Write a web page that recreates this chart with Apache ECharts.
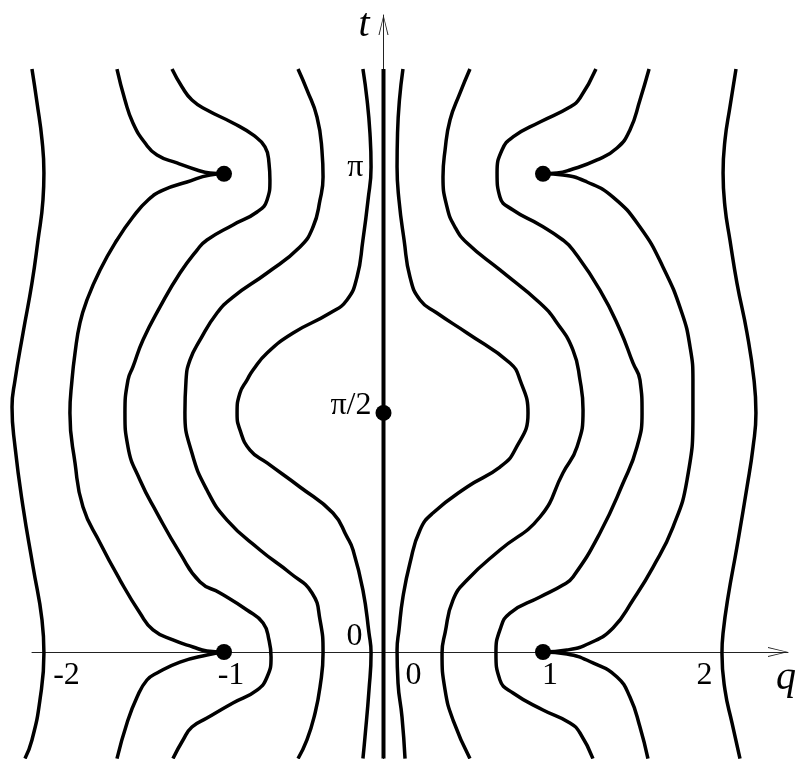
<!DOCTYPE html>
<html>
<head>
<meta charset="utf-8">
<script src="https://cdn.jsdelivr.net/npm/echarts@6/dist/echarts.min.js"></script>
<style>
html, body { margin: 0; padding: 0; background: #fff; }
#chart { width: 799px; height: 759px; }
</style>
</head>
<body>
<div id="chart"></div>
<script>
// level curves, points are [q, t]
const farLeft = [[-2.204,3.83],[-2.172,3.607],[-2.141,3.364],[-2.129,3.147],[-2.135,2.970],[-2.166,2.707],[-2.204,2.424],[-2.260,2.096],[-2.310,1.787],[-2.329,1.610],[-2.310,1.347],[-2.260,0.953],[-2.197,0.558],[-2.141,0.210],[-2.129,-0.007],[-2.154,-0.315],[-2.204,-0.578],[-2.248,-0.70]];
const bLeftTop = [[-1.671,3.83],[-1.621,3.627],[-1.571,3.476],[-1.495,3.344],[-1.420,3.265],[-1.295,3.213],[-1.169,3.167],[-1.088,3.147],[-1,3.1416]];
const bLeftMid = [[-1,3.1416],[-1.088,3.134],[-1.232,3.088],[-1.382,3.035],[-1.476,2.970],[-1.571,2.858],[-1.671,2.707],[-1.777,2.510],[-1.859,2.313],[-1.903,2.162],[-1.934,1.965],[-1.953,1.787],[-1.966,1.570],[-1.934,1.242],[-1.884,0.953],[-1.777,0.716],[-1.652,0.473],[-1.527,0.256],[-1.445,0.145],[-1.320,0.079],[-1.194,0.033],[-1.107,0.007],[-1,0]];
const bLeftBottom = [[-1,0],[-1.107,-0.020],[-1.276,-0.066],[-1.420,-0.138],[-1.483,-0.184],[-1.545,-0.296],[-1.608,-0.466],[-1.671,-0.70]];
const cLeft = [[-1.326,3.83],[-1.263,3.712],[-1.201,3.627],[-1.107,3.561],[-0.944,3.476],[-0.818,3.397],[-0.743,3.318],[-0.718,3.213],[-0.712,3.101],[-0.730,2.970],[-0.793,2.891],[-0.944,2.806],[-1.107,2.707],[-1.169,2.641],[-1.276,2.490],[-1.401,2.267],[-1.508,2.050],[-1.571,1.873],[-1.602,1.787],[-1.621,1.570],[-1.602,1.347],[-1.527,1.130],[-1.420,0.913],[-1.276,0.650],[-1.150,0.460],[-1.025,0.388],[-0.856,0.276],[-0.755,0.191],[-0.718,0.079],[-0.705,-0.033],[-0.730,-0.164],[-0.793,-0.250],[-0.944,-0.335],[-1.107,-0.434],[-1.201,-0.493],[-1.257,-0.578],[-1.320,-0.70]];
const dLeft = [[-0.536,3.83],[-0.480,3.693],[-0.417,3.515],[-0.386,3.298],[-0.379,3.121],[-0.398,2.970],[-0.442,2.792],[-0.524,2.661],[-0.730,2.490],[-0.944,2.332],[-1.044,2.227],[-1.150,2.050],[-1.213,1.919],[-1.238,1.787],[-1.245,1.570],[-1.201,1.307],[-1.107,1.064],[-0.981,0.867],[-0.774,0.670],[-0.586,0.519],[-0.448,0.388],[-0.398,0.210],[-0.379,-0.007],[-0.398,-0.230],[-0.429,-0.401],[-0.480,-0.578],[-0.536,-0.70]];
const eLeft = [[-0.129,3.83],[-0.103,3.627],[-0.085,3.410],[-0.078,3.187],[-0.097,2.970],[-0.129,2.707],[-0.166,2.464],[-0.229,2.313],[-0.335,2.227],[-0.567,2.096],[-0.730,1.965],[-0.818,1.853],[-0.856,1.787],[-0.900,1.702],[-0.918,1.570],[-0.900,1.459],[-0.837,1.327],[-0.730,1.242],[-0.524,1.084],[-0.317,0.913],[-0.229,0.756],[-0.191,0.670],[-0.129,0.407],[-0.091,0.125],[-0.078,-0.007],[-0.091,-0.250],[-0.116,-0.558],[-0.129,-0.70]];
const centre = [[0,3.83],[0,1.5708],[0,-0.70]];
const eRight = [[0.122,3.83],[0.100,3.627],[0.088,3.410],[0.085,3.187],[0.097,2.970],[0.129,2.707],[0.166,2.464],[0.229,2.313],[0.335,2.227],[0.524,2.096],[0.793,1.899],[0.856,1.787],[0.906,1.570],[0.824,1.327],[0.730,1.215],[0.524,1.084],[0.310,0.913],[0.229,0.802],[0.166,0.585],[0.122,0.361],[0.097,0.145],[0.085,0.013],[0.091,-0.204],[0.116,-0.427],[0.135,-0.70]];
const dRight = [[0.542,3.83],[0.480,3.673],[0.417,3.495],[0.386,3.298],[0.373,3.121],[0.398,2.924],[0.448,2.792],[0.524,2.687],[0.730,2.510],[0.981,2.293],[1.088,2.162],[1.188,1.984],[1.232,1.787],[1.251,1.590],[1.213,1.347],[1.125,1.176],[0.981,0.887],[0.730,0.670],[0.524,0.473],[0.436,0.342],[0.386,0.125],[0.367,-0.007],[0.386,-0.250],[0.436,-0.447],[0.542,-0.70]];
const cRight = [[1.332,3.83],[1.232,3.640],[1.169,3.581],[0.981,3.482],[0.812,3.384],[0.743,3.298],[0.712,3.147],[0.730,2.989],[0.812,2.904],[0.981,2.806],[1.125,2.707],[1.188,2.641],[1.357,2.378],[1.483,2.116],[1.564,1.899],[1.608,1.787],[1.621,1.570],[1.589,1.347],[1.502,1.110],[1.357,0.782],[1.188,0.493],[1.125,0.440],[0.981,0.361],[0.793,0.256],[0.730,0.145],[0.705,-0.007],[0.730,-0.184],[0.812,-0.269],[1.000,-0.381],[1.169,-0.466],[1.232,-0.532],[1.313,-0.70]];
const bRightTop = [[1.665,3.83],[1.608,3.627],[1.545,3.430],[1.464,3.311],[1.339,3.233],[1.169,3.167],[1.088,3.147],[1,3.1416]];
const bRightMid = [[1,3.1416],[1.125,3.134],[1.276,3.088],[1.439,2.989],[1.608,2.792],[1.752,2.530],[1.871,2.227],[1.922,2.004],[1.940,1.787],[1.940,1.570],[1.903,1.130],[1.815,0.821],[1.690,0.558],[1.564,0.342],[1.439,0.158],[1.295,0.059],[1.150,0.013],[1,0]];
const bRightBottom = [[1,0],[1.150,-0.013],[1.313,-0.072],[1.464,-0.164],[1.545,-0.296],[1.608,-0.493],[1.658,-0.70]];
const farRight = [[2.210,3.83],[2.172,3.581],[2.141,3.364],[2.129,3.147],[2.141,2.924],[2.172,2.707],[2.216,2.424],[2.279,2.096],[2.323,1.787],[2.335,1.570],[2.317,1.347],[2.279,1.084],[2.216,0.690],[2.160,0.361],[2.129,0.125],[2.122,-0.007],[2.141,-0.250],[2.185,-0.466],[2.235,-0.70]];

const criticalPoints = [[-1, Math.PI], [1, Math.PI], [-1, 0], [1, 0], [0, Math.PI / 2]];

const qTicks = [-2, -1, 0, 1, 2];
const tTicks = [0, Math.PI / 2, Math.PI];
const tTickLabels = ['0', 'π/2', 'π'];

const curves = [farLeft, bLeftTop, bLeftMid, bLeftBottom, cLeft, dLeft, eLeft, centre,
    eRight, dRight, cRight, bRightTop, bRightMid, bRightBottom, farRight];

const serif = 'Liberation Serif';
const arrow = 'path://M5,0L10,20L9,20L5,2.5L1,20L0,20Z';

// both grids use the same scale: 159.5 px per unit of q, 152.2 px per unit of t
const qMinFull = -2.4044, qMaxFull = 2.6050;
const qMinAxis = -2.2038, qMaxAxis = 2.5361;
const tMin = -0.7030, tMax = 4.1852;

let chartObj = echarts.init(document.getElementById('chart'));

let series = curves.map(function (c) {
    return {
        type: 'line',
        data: c,
        showSymbol: false,
        smooth: 0.5,
        clip: false,
        silent: true,
        lineStyle: { color: '#000', width: c === centre ? 4 : 3.5 }
    };
});
series.push({
    type: 'scatter',
    data: criticalPoints,
    symbolSize: 16,
    clip: false,
    itemStyle: { color: '#000', opacity: 1 },
    z: 5
});

//文字样式
function txt(pad) {
    return { fontFamily: serif, fontSize: 32, color: '#000', padding: pad };
}

chartObj.setOption({
    animation: false,
    grid: [
        { left: 0, right: 0, top: 15, bottom: 0, outerBoundsMode: 'none' },
        { left: 32, right: 11, top: 15, bottom: 0, outerBoundsMode: 'none' }
    ],
    xAxis: [{
        gridIndex: 0, type: 'value', min: qMinFull, max: qMaxFull, show: false
    }, {
        gridIndex: 1,
        type: 'value',
        min: qMinAxis,
        max: qMaxAxis,
        position: 'bottom',
        offset: -107,
        name: 'q',
        nameLocation: 'end',
        nameGap: -2,
        nameMoveOverlap: false,
        nameTextStyle: { fontFamily: serif, fontStyle: 'italic', fontSize: 40, color: '#000',
            align: 'center', verticalAlign: 'top', padding: [6, 0, 0, 0] },
        axisLine: { onZero: false, symbol: ['none', arrow], symbolSize: [10, 20], symbolOffset: [0, -10],
            lineStyle: { color: '#222', width: 1 } },
        axisTick: { show: false },
        splitLine: { show: false },
        axisLabel: {
            customValues: qTicks,
            margin: 8,
            color: '#000',
            formatter: function (v) {
                if (v === 0) return '{o|0}';
                if (Math.abs(v) === 1) return '{u|' + v + '}';
                return '{n|' + v + '}';
            },
            rich: { o: txt([0, 0, 0, 60]), u: txt([0, 0, 0, 14]), n: txt([0, 0, 0, 4]) }
        }
    }],
    yAxis: [{
        gridIndex: 0, type: 'value', min: tMin, max: tMax, show: false
    }, {
        gridIndex: 1,
        type: 'value',
        min: tMin,
        max: tMax,
        position: 'left',
        offset: -351.5,
        name: 't',
        nameLocation: 'end',
        nameGap: -10,
        nameMoveOverlap: false,
        nameTextStyle: { fontFamily: serif, fontStyle: 'italic', fontSize: 40, color: '#000',
            align: 'right', verticalAlign: 'middle', padding: [0, 14, 0, 0] },
        axisLine: { onZero: false, symbol: ['none', arrow], symbolSize: [10, 20], symbolOffset: [0, -10],
            lineStyle: { color: '#222', width: 1 } },
        axisTick: { show: false },
        splitLine: { show: false },
        axisLabel: {
            customValues: tTicks,
            margin: 12,
            color: '#000',
            formatter: function (v) {
                let i = tTicks.findIndex(function (x) { return Math.abs(x - v) < 1e-6; });
                return '{' + ['z', 'h', 'p'][i] + '|' + tTickLabels[i] + '}';
            },
            rich: { z: txt([0, 9, 30, 0]), h: txt([0, 0, 14, 0]), p: txt([0, 8, 12, 0]) }
        }
    }],
    series: series
});
</script>
</body>
</html>
